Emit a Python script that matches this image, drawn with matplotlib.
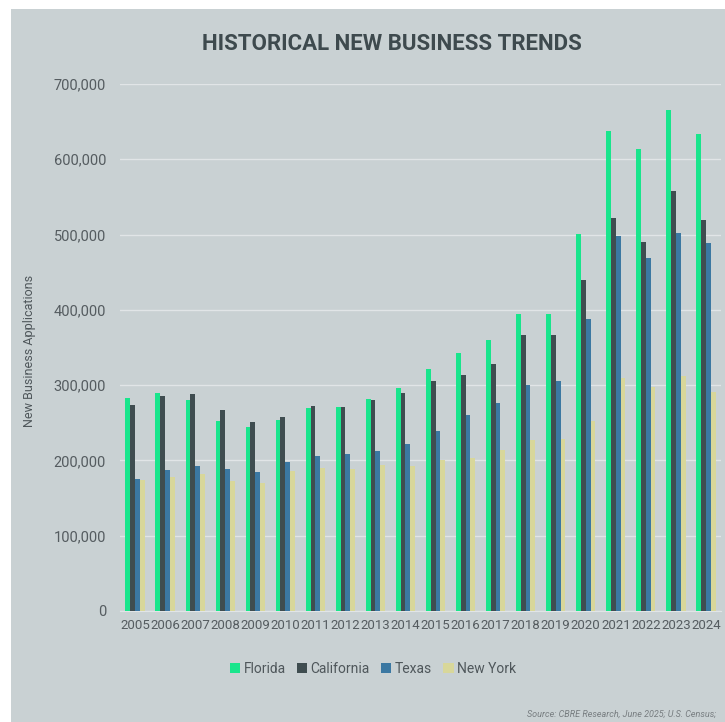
import matplotlib.pyplot as plt
import numpy as np
from matplotlib.ticker import FuncFormatter

years = [str(y) for y in range(2005, 2025)]
florida = [283000, 290000, 280000, 253000, 245000, 254000, 269500, 271000, 281000, 296000,
           321000, 342500, 360000, 394000, 394000, 500500, 637000, 613000, 665000, 634000]
california = [273000, 286000, 288000, 266500, 251000, 258000, 272000, 270500, 280000, 290000,
              306000, 314000, 327500, 366000, 367000, 439000, 522000, 490000, 558000, 520000]
texas = [175000, 187000, 192000, 188000, 185000, 197500, 206000, 208500, 213000, 222000,
         238500, 260000, 276000, 300000, 306000, 388000, 497500, 469000, 501500, 488500]
new_york = [173500, 178000, 182000, 173000, 170000, 185500, 190000, 188500, 193500, 192500,
            200000, 203000, 214000, 227000, 229000, 253000, 310000, 297000, 312000, 291500]
series = ["Florida", "California", "Texas", "New York"]
colors = ["#19e58c", "#3f4d50", "#3b78a2", "#d8d79a"]

BG = "#c9d1d3"
plt.rcParams["font.family"] = ["Roboto", "DejaVu Sans"]

fig = plt.figure(figsize=(7.25, 7.22), dpi=100, facecolor="white")
# grey panel behind the chart
fig.patches.append(plt.Rectangle((11 / 725, 0), 1, 1 - 9 / 722, transform=fig.transFigure,
                                 facecolor=BG, edgecolor="none", zorder=-10))

ax = fig.add_axes([120 / 725, 1 - 611 / 722, 601 / 725, 527 / 722])
ax.set_facecolor(BG)

x = np.arange(len(years))
w = 0.16
for i, (name, vals) in enumerate(zip(series, [florida, california, texas, new_york])):
    ax.bar(x + (i - 1.5) * w, vals, width=w, color=colors[i], label=name, zorder=3)

ax.set_xlim(-0.5, len(years) - 0.5)
ax.set_ylim(0, 700000)
ax.set_yticks(range(0, 700001, 100000))
ax.yaxis.set_major_formatter(FuncFormatter(lambda v, p: f"{int(v):,}"))
ax.set_xticks(x)
ax.set_xticklabels(years)
ax.grid(axis="y", color="#e1e5e7", linewidth=1, zorder=0)
for s in ["top", "right", "left"]:
    ax.spines[s].set_visible(False)
ax.spines["bottom"].set_color("#e1e5e7")
ax.tick_params(axis="both", length=0, colors="#555c60")
ax.tick_params(axis="y", pad=10, labelsize=10.5)
ax.tick_params(axis="x", pad=6, labelsize=9.5)

fig.text(30 / 725, 1 - 351 / 722, "New Business Applications", rotation=90,
         ha="center", va="center", fontsize=9, color="#4f575b")
fig.text(392 / 725, 1 - 44 / 722, "HISTORICAL NEW BUSINESS TRENDS", ha="center",
         va="center", fontsize=16, fontweight="bold", color="#3e4a4e")

fig.legend(loc="center", bbox_to_anchor=(373 / 725, 1 - 669 / 722), ncol=4,
           frameon=False, fontsize=10, handlelength=0.75, handleheight=0.75,
           handletextpad=0.25, columnspacing=0.8, labelcolor="#4f575b")

fig.text(716 / 725, 1 - 714 / 722, "Source: CBRE Research, June 2025; U.S. Census;",
         ha="right", va="center", fontsize=6.5, style="italic", color="#777d80")

fig.savefig("out.png", dpi=100, facecolor="white")
